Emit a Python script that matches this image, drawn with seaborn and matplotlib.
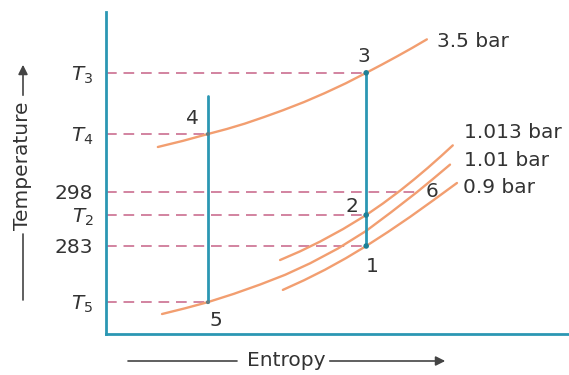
import matplotlib
matplotlib.use("Agg")
import matplotlib.pyplot as plt
from matplotlib.lines import Line2D
from matplotlib.patches import FancyArrowPatch
import seaborn as sns
import pandas as pd

# ---- data -------------------------------------------------------------
# temperature axis ticks (T3, T4, 298, T2, 283, T5)
tick_temps = [331.1, 314.1, 298.0, 291.6, 283.0, 267.4]
tick_labels = ["$T_3$", "$T_4$", "298", "$T_2$", "283", "$T_5$"]

# state points of the cycle
state_names = ["1", "2", "3", "4", "5", "6"]
state_s = [5.62, 5.62, 5.62, 2.20, 2.20, 6.72]
state_T = [283.0, 291.6, 331.1, 314.1, 267.4, 298.0]

# constant-pressure lines (entropy, temperature)
p35_s = [1.12, 1.66, 2.20, 2.61, 3.00, 3.41, 3.82, 4.28, 4.73, 5.18,
         5.62, 5.96, 6.29, 6.61, 6.93]
p35_T = [310.5, 312.2, 314.1, 315.5, 317.0, 318.8, 320.7, 323.0, 325.5,
         328.2, 331.1, 333.4, 335.7, 338.0, 340.4]

p1013_s = [3.76, 4.19, 4.62, 5.12, 5.62, 5.98, 6.35, 6.65, 6.95, 7.24, 7.49]
p1013_T = [279.1, 281.5, 284.2, 287.7, 291.6, 294.8, 298.35, 301.45, 304.7,
           308.0, 310.95]

p101_s = [1.21, 1.71, 2.20, 2.76, 3.33, 3.87, 4.41, 5.01, 5.62, 6.16, 6.72,
          7.06, 7.43]
p101_T = [264.1, 265.7, 267.4, 269.7, 272.3, 275.0, 278.2, 282.3, 287.2,
          292.4, 298.0, 301.6, 305.6]

p09_s = [3.82, 4.28, 4.73, 5.18, 5.62, 6.09, 6.57, 7.08, 7.58]
p09_T = [270.8, 273.5, 276.4, 279.6, 283.0, 286.9, 291.1, 295.8, 300.5]

isobar_labels = ["3.5 bar", "1.013 bar", "1.01 bar", "0.9 bar"]

# vertical process lines
proc_45_s = [2.20, 2.20]
proc_45_T = [324.7, 267.4]
proc_31_s = [5.62, 5.62]
proc_31_T = [331.1, 283.0]

# ---- style ------------------------------------------------------------
sns.set_theme(style="white")
plt.rcParams["font.family"] = ["DejaVu Sans"]
plt.rcParams["mathtext.fontset"] = "dejavusans"

TEXT = "#333333"
TEAL = "#2b97b3"
ORANGE = "#f29e70"
PINK = "#d283a0"
FS = 14.5

W, H = 569, 375
fig = plt.figure(figsize=(W / 100, H / 100), dpi=100)
ax = fig.add_axes([106 / W, 41 / H, 463 / W, 322 / H])
ax.set_xlim(0, 10)
ax.set_ylim(258.55, 348.0)

# isobars
isobars = [(p35_s, p35_T), (p1013_s, p1013_T), (p101_s, p101_T), (p09_s, p09_T)]
for (s, T), lab in zip(isobars, isobar_labels):
    df = pd.DataFrame({"s": s, "T": T})
    sns.lineplot(data=df, x="s", y="T", ax=ax, color=ORANGE, lw=1.7,
                 sort=False, estimator=None, zorder=2,
                 solid_joinstyle="round", solid_capstyle="round")

# dashed temperature guides from the axis to each state
for s, T in zip(state_s, state_T):
    ax.plot([0, s], [T, T], color=PINK, lw=1.4, ls=(0, (5.5, 3.5)), zorder=1)

# process lines
for s, T in [(proc_45_s, proc_45_T), (proc_31_s, proc_31_T)]:
    sns.lineplot(x=s, y=T, ax=ax, color=TEAL, lw=2.0, sort=False,
                 estimator=None, zorder=3)

# state markers
marker_df = pd.DataFrame({"s": state_s[:3], "T": state_T[:3]})
sns.scatterplot(data=marker_df, x="s", y="T", ax=ax, color="#1f7f96",
                s=16, edgecolor="none", zorder=4)
small_df = pd.DataFrame({"s": state_s[3:5], "T": state_T[3:5]})
sns.scatterplot(data=small_df, x="s", y="T", ax=ax, color="#5f7f86",
                s=8, edgecolor="none", zorder=4)

# state numbers (offsets in points)
offsets = {"1": (4, -15), "2": (-10, 6), "3": (-2, 12), "4": (-11, 11),
           "5": (6, -13), "6": (11, 0)}
for name, s, T in zip(state_names, state_s, state_T):
    ax.annotate(name, (s, T), xytext=offsets[name], textcoords="offset points",
                ha="center", va="center", fontsize=FS, color=TEXT, zorder=5)

# isobar labels at the end of each curve
label_offsets = [(7, -1.5), (8, 9.5), (10, 3), (4, -3)]
for (s, T), lab, off in zip(isobars, isobar_labels, label_offsets):
    ax.annotate(lab, (s[-1], T[-1]), xytext=off, textcoords="offset points",
                ha="left", va="center", fontsize=FS, color=TEXT)

# axes frame
for side in ["top", "right"]:
    ax.spines[side].set_visible(False)
for side in ["left", "bottom"]:
    ax.spines[side].set_color(TEAL)
    ax.spines[side].set_linewidth(2.0)
ax.set_xticks([])
ax.set_yticks(tick_temps)
ax.set_yticklabels(tick_labels)
ax.tick_params(axis="y", length=0, pad=9, labelsize=FS, labelcolor=TEXT)
ax.set_xlabel("")
ax.set_ylabel("")

# axis titles with arrows
def fx(px):
    return px / W

def fy(py):
    return 1 - py / H

AX_COL = "#444444"
fig.text(fx(286), fy(360), "Entropy", ha="center", va="center",
         fontsize=FS, color=TEXT)
fig.add_artist(Line2D([fx(128), fx(237)], [fy(361), fy(361)],
                      color=AX_COL, lw=1.2, transform=fig.transFigure))
fig.add_artist(FancyArrowPatch((fx(327), fy(361)), (fx(448), fy(361)),
                               arrowstyle="-|>", mutation_scale=14,
                               color=AX_COL, lw=1.2, transform=fig.transFigure))

fig.text(fx(23), fy(166), "Temperature", ha="center", va="center",
         rotation=90, fontsize=FS, color=TEXT)
fig.add_artist(Line2D([fx(23), fx(23)], [fy(234), fy(300)],
                      color=AX_COL, lw=1.2, transform=fig.transFigure))
fig.add_artist(FancyArrowPatch((fx(23), fy(98)), (fx(23), fy(62)),
                               arrowstyle="-|>", mutation_scale=14,
                               color=AX_COL, lw=1.2, transform=fig.transFigure))

fig.savefig("out.png", dpi=100, facecolor="white")
